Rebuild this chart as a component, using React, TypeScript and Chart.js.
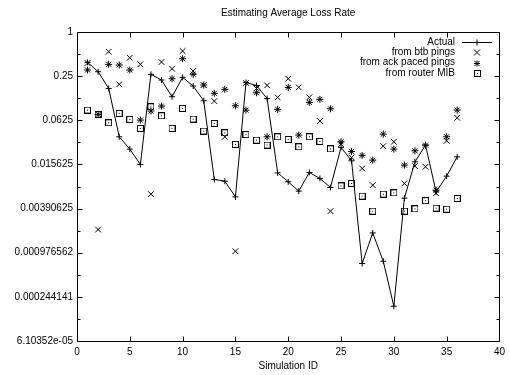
import React, { useEffect, useRef } from 'react';
import { Chart, registerables } from 'chart.js';

Chart.register(...registerables);

const chartTitle = 'Estimating Average Loss Rate';
const xAxisTitle = 'Simulation ID';

const simulationIds = [
  1, 2, 3, 4, 5, 6, 7, 8, 9, 10, 11, 12, 13, 14, 15, 16, 17, 18,
  19, 20, 21, 22, 23, 24, 25, 26, 27, 28, 29, 30, 31, 32, 33, 34, 35, 36,
];

const actual = [
  0.386, 0.287, 0.17, 0.0372, 0.0253, 0.0156, 0.2646, 0.2212, 0.1308, 0.2408, 0.1832, 0.1154,
  0.00975, 0.00924, 0.00564, 0.2044, 0.186, 0.1237, 0.012, 0.00905, 0.00675, 0.01215, 0.01006, 0.00758,
  0.0267, 0.0175, 0.000696, 0.00182, 0.000748, 0.000182, 0.00542, 0.01696, 0.0287, 0.0066, 0.01082, 0.01984,
];

const btbPings = [
  0.3775, 0.00202, 0.538, 0.193, 0.4458, 0.3623, 0.00614, 0.3895, 0.3155, 0.5504, 0.2935, 0.189,
  0.1143, 0.0372, 0.001024, 0.2012, 0.17, 0.1872, 0.1284, 0.2304, 0.1758, 0.1284, 0.0609, 0.0036,
  0.0296, 0.01948, 0.01378, 0.00815, 0.0278, 0.0318, 0.0086, 0.01481, 0.0145, 0.00634, 0.0328, 0.0676,
];

const ackPacedPings = [
  0.303, 0.0752, 0.3623, 0.3544, 0.303, 0.0629, 0.0835, 0.0977, 0.2304, 0.4319, 0.2646, 0.189,
  0.1456, 0.1651, 0.0986, 0.0861, 0.1484, 0.0372, 0.0881, 0.1758, 0.0393, 0.1097, 0.1206, 0.0897,
  0.0318, 0.0235, 0.02074, 0.0179, 0.0405, 0.0253, 0.0153, 0.024, 0.0287, 0.00697, 0.0372, 0.0861,
];

const routerMib = [
  0.0861, 0.0752, 0.0578, 0.0776, 0.0643, 0.0484, 0.0955, 0.072, 0.0484, 0.0908, 0.0649, 0.0445,
  0.0567, 0.0422, 0.0293, 0.0399, 0.0335, 0.0287, 0.0372, 0.0343, 0.0272, 0.0372, 0.0322, 0.0255,
  0.00797, 0.0086, 0.00577, 0.0036, 0.00614, 0.0064, 0.0036, 0.00387, 0.00501, 0.00396, 0.00383, 0.00536,
];

const seriesNames = ['Actual', 'from btb pings', 'from ack paced pings', 'from router MIB'];

const xTickValues = [0, 5, 10, 15, 20, 25, 30, 35, 40];
const yTickValues = [1, 0.25, 0.0625, 0.015625, 0.00390625, 0.0009765625, 0.000244140625, 0.00006103515625];
const yTickLabels = ['1', '0.25', '0.0625', '0.015625', '0.00390625', '0.000976562', '0.000244141', '6.10352e-05'];
const yMinorTickValues = [0.5, 0.125, 0.03125, 0.0078125, 0.001953125, 0.00048828125, 0.0001220703125];

const FONT = '"Liberation Sans", Arial, Helvetica, sans-serif';
const FONT_SIZE = 10;

function makeBoxCanvas(): HTMLCanvasElement {
  const c = document.createElement('canvas');
  c.width = 7;
  c.height = 7;
  const g = c.getContext('2d')!;
  g.strokeStyle = '#000';
  g.lineWidth = 1;
  g.strokeRect(0.5, 0.5, 6, 6);
  g.fillStyle = '#000';
  g.fillRect(3, 3, 1, 1);
  return c;
}

function drawMarker(ctx: CanvasRenderingContext2D, kind: string, x: number, y: number, box: HTMLCanvasElement) {
  ctx.save();
  ctx.strokeStyle = '#000';
  ctx.lineWidth = 1;
  ctx.beginPath();
  if (kind === 'plus' || kind === 'star') {
    ctx.moveTo(x - 3, y);
    ctx.lineTo(x + 3, y);
    ctx.moveTo(x, y - 3);
    ctx.lineTo(x, y + 3);
  }
  if (kind === 'x' || kind === 'star') {
    const d = kind === 'star' ? 2.5 : 3;
    ctx.moveTo(x - d, y - d);
    ctx.lineTo(x + d, y + d);
    ctx.moveTo(x - d, y + d);
    ctx.lineTo(x + d, y - d);
  }
  ctx.stroke();
  if (kind === 'box') {
    ctx.drawImage(box, Math.round(x - 3.5), Math.round(y - 3.5));
  }
  ctx.restore();
}

export default function App() {
  const canvasRef = useRef<HTMLCanvasElement | null>(null);

  useEffect(() => {
    document.body.style.margin = '0';
    const canvas = canvasRef.current;
    if (!canvas) return;
    const box = makeBoxCanvas();

    const toPoints = (arr: number[]) => simulationIds.map((id, i) => ({ x: id, y: arr[i] }));

    const gnuplotPlugin = {
      id: 'gnuplotDecor',
      afterDraw(chart: any) {
        const ctx: CanvasRenderingContext2D = chart.ctx;
        const { left, right, top, bottom } = chart.chartArea;
        const xs = chart.scales.x;
        const ys = chart.scales.y;
        ctx.save();
        ctx.strokeStyle = '#000';
        ctx.lineWidth = 1;
        const L = Math.round(left) + 0.5;
        const R = Math.round(right) + 0.5;
        const T = Math.round(top) + 0.5;
        const B = Math.round(bottom) + 0.5;
        ctx.strokeRect(L, T, R - L, B - T);
        ctx.beginPath();
        const major = 5;
        const minor = 3;
        xTickValues.forEach((v) => {
          const px = Math.round(xs.getPixelForValue(v)) + 0.5;
          ctx.moveTo(px, B);
          ctx.lineTo(px, B - major);
          ctx.moveTo(px, T);
          ctx.lineTo(px, T + major);
        });
        yTickValues.forEach((v) => {
          const py = Math.round(ys.getPixelForValue(v)) + 0.5;
          ctx.moveTo(L, py);
          ctx.lineTo(L + major, py);
          ctx.moveTo(R, py);
          ctx.lineTo(R - major, py);
        });
        yMinorTickValues.forEach((v) => {
          const py = Math.round(ys.getPixelForValue(v)) + 0.5;
          ctx.moveTo(L, py);
          ctx.lineTo(L + minor, py);
          ctx.moveTo(R, py);
          ctx.lineTo(R - minor, py);
        });
        ctx.stroke();

        ctx.fillStyle = '#000';
        ctx.font = `${FONT_SIZE}px ${FONT}`;
        ctx.textBaseline = 'middle';
        ctx.textAlign = 'center';
        const cx = (left + right) / 2;
        ctx.fillText(chartTitle, cx, 13);
        ctx.fillText(xAxisTitle, cx, 366);

        // legend
        const kinds = ['plus', 'x', 'star', 'box'];
        const textRight = 455;
        const sampleX = 477;
        ctx.textAlign = 'right';
        seriesNames.forEach((name, i) => {
          const yy = 42 + i * 10.3;
          ctx.fillText(name, textRight, yy);
          if (i === 0) {
            ctx.beginPath();
            ctx.moveTo(462, Math.round(yy) + 0.5);
            ctx.lineTo(492, Math.round(yy) + 0.5);
            ctx.stroke();
          }
          drawMarker(ctx, kinds[i], sampleX, Math.round(yy) + 0.5, box);
        });
        ctx.restore();
      },
    };

    const chart = new Chart(canvas, {
      type: 'scatter',
      data: {
        datasets: [
          {
            label: seriesNames[0],
            data: toPoints(actual),
            showLine: true,
            borderColor: '#000',
            borderWidth: 1,
            pointStyle: 'cross',
            pointRadius: 3,
            pointBorderColor: '#000',
            pointBorderWidth: 1,
            tension: 0,
          },
          {
            label: seriesNames[1],
            data: toPoints(btbPings),
            showLine: false,
            pointStyle: 'crossRot',
            pointRadius: 4,
            pointBorderColor: '#000',
            pointBorderWidth: 1,
          },
          {
            label: seriesNames[2],
            data: toPoints(ackPacedPings),
            showLine: false,
            pointStyle: 'star',
            pointRadius: 3.5,
            pointBorderColor: '#000',
            pointBorderWidth: 1,
          },
          {
            label: seriesNames[3],
            data: toPoints(routerMib),
            showLine: false,
            pointStyle: box,
            pointRadius: 3.5,
          },
        ],
      },
      options: {
        responsive: false,
        animation: false,
        events: [],
        layout: { padding: { top: 32, right: 7, left: 0, bottom: 0 } },
        plugins: {
          legend: { display: false },
          title: { display: false },
          tooltip: { enabled: false },
        },
        scales: {
          x: {
            type: 'linear',
            min: 0,
            max: 40,
            grid: { display: false, drawTicks: false },
            border: { display: false },
            afterBuildTicks: (scale: any) => {
              scale.ticks = xTickValues.map((v) => ({ value: v }));
            },
            afterFit: (scale: any) => {
              scale.height = 34;
            },
            ticks: {
              autoSkip: false,
              maxRotation: 0,
              padding: 5,
              color: '#000',
              font: { family: FONT, size: FONT_SIZE },
              callback: (v: any) => String(v),
            },
          },
          y: {
            type: 'logarithmic',
            min: yTickValues[yTickValues.length - 1],
            max: 1,
            grid: { display: false, drawTicks: false },
            border: { display: false },
            afterBuildTicks: (scale: any) => {
              scale.ticks = yTickValues.slice().reverse().map((v) => ({ value: v }));
            },
            afterFit: (scale: any) => {
              scale.width = 77;
            },
            ticks: {
              autoSkip: false,
              padding: 4,
              color: '#000',
              font: { family: FONT, size: FONT_SIZE },
              callback: (v: any) => {
                const i = yTickValues.findIndex((t) => Math.abs(t - v) / t < 1e-6);
                return i >= 0 ? yTickLabels[i] : '';
              },
            },
          },
        },
      },
      plugins: [gnuplotPlugin],
    } as any);

    return () => {
      chart.destroy();
    };
  }, []);

  return (
    <div style={{ width: 510, height: 375, background: '#fff' }}>
      <canvas ref={canvasRef} width={510} height={375} style={{ display: 'block' }} />
    </div>
  );
}
